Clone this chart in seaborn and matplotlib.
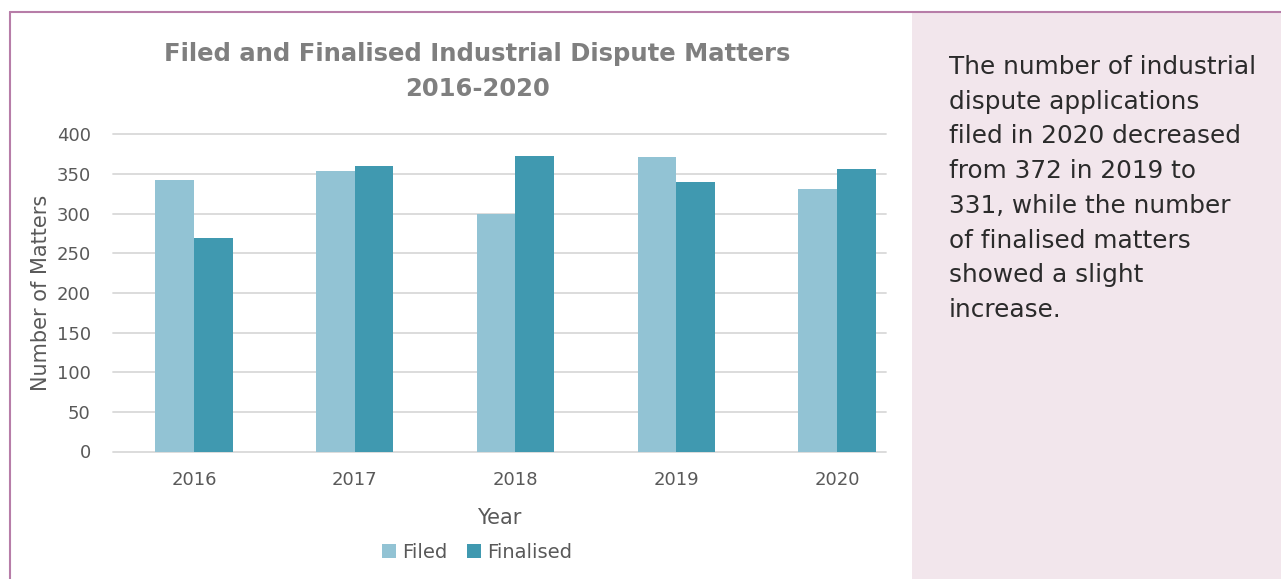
import matplotlib
matplotlib.use("Agg")
import matplotlib.pyplot as plt
import seaborn as sns
import pandas as pd
from matplotlib.patches import Rectangle
from matplotlib.lines import Line2D

years = ["2016", "2017", "2018", "2019", "2020"]
filed = [343, 354, 300, 372, 331]
finalised = [269, 360, 373, 340, 356]
series_names = ["Filed", "Finalised"]
yticks = [0, 50, 100, 150, 200, 250, 300, 350, 400]
title_lines = ["Filed and Finalised Industrial Dispute Matters", "2016-2020"]
side_lines = [
    "The number of industrial",
    "dispute applications",
    "filed in 2020 decreased",
    "from 372 in 2019 to",
    "331, while the number",
    "of finalised matters",
    "showed a slight",
    "increase.",
]

df = pd.DataFrame({
    "Year": years * 2,
    "Matters": filed + finalised,
    "Series": [series_names[0]] * len(years) + [series_names[1]] * len(years),
})

sns.set_theme(style="white")
plt.rcParams["font.family"] = ["DejaVu Sans"]

W, H = 1281, 579
fig = plt.figure(figsize=(W / 100, H / 100), dpi=100)
fig.patch.set_facecolor("white")

# side panel and border
fig.patches.append(Rectangle((912 / W, 0), (W - 912) / W, 1 - 13 / H,
                             transform=fig.transFigure, facecolor="#F2E6EC",
                             edgecolor="none", zorder=0))
border = "#B77DA8"
fig.lines.append(Line2D([10 / W, 10 / W], [0, 1 - 12 / H], transform=fig.transFigure,
                        color=border, lw=1.5))
fig.lines.append(Line2D([10 / W, 1], [1 - 12 / H, 1 - 12 / H], transform=fig.transFigure,
                        color=border, lw=1.5))

ax_l, ax_r = 113 / W, 886 / W
ax_b, ax_t = 1 - 451.5 / H, 1 - 134.3 / H
ax = fig.add_axes([ax_l, ax_b, ax_r - ax_l, ax_t - ax_b])
ax.set_facecolor("none")

palette = {"Filed": "#92C3D4", "Finalised": "#4099B0"}
sns.barplot(data=df, x="Year", y="Matters", hue="Series", palette=palette,
            saturation=1, width=0.48, gap=0, linewidth=0, ax=ax, legend=True,
            zorder=3)

ax.set_ylim(0, 400)
ax.set_xlim(-0.504, 4.305)
ax.set_yticks(yticks)
ax.yaxis.grid(True, color="#D9D9D9", lw=1.3, zorder=0)
ax.set_axisbelow(True)
for gl in ax.get_ygridlines():
    gl.set_clip_on(False)
for s in ax.spines.values():
    s.set_visible(False)
ax.tick_params(axis="both", length=0, colors="#595959", labelsize=13)
ax.tick_params(axis="x", pad=14)
ax.tick_params(axis="y", pad=16)
ax.set_xlabel("Year", fontsize=15, color="#595959", labelpad=14)
ax.set_ylabel("Number of Matters", fontsize=15, color="#595959", labelpad=4)

leg = ax.legend(loc="center", bbox_to_anchor=(477 / W, 1 - 552 / H),
                bbox_transform=fig.transFigure, ncol=2, frameon=False,
                fontsize=14, handlelength=0.75, handleheight=0.75,
                handletextpad=0.3, columnspacing=1.0, borderpad=0)
for t in leg.get_texts():
    t.set_color("#595959")

# title
fig.text(477 / W, 1 - 61 / H, title_lines[0], ha="center", va="baseline",
         fontsize=17.5, fontweight="bold", color="#7F7F7F")
fig.text(477 / W, 1 - 96 / H, title_lines[1], ha="center", va="baseline",
         fontsize=17.5, fontweight="bold", color="#7F7F7F")

# side text
for i, line in enumerate(side_lines):
    fig.text(949 / W, 1 - (74 + i * 34.7) / H, line, ha="left", va="baseline",
             fontsize=17.8, color="#2B2B2B")

fig.savefig("out.png", dpi=100, facecolor=fig.get_facecolor())
